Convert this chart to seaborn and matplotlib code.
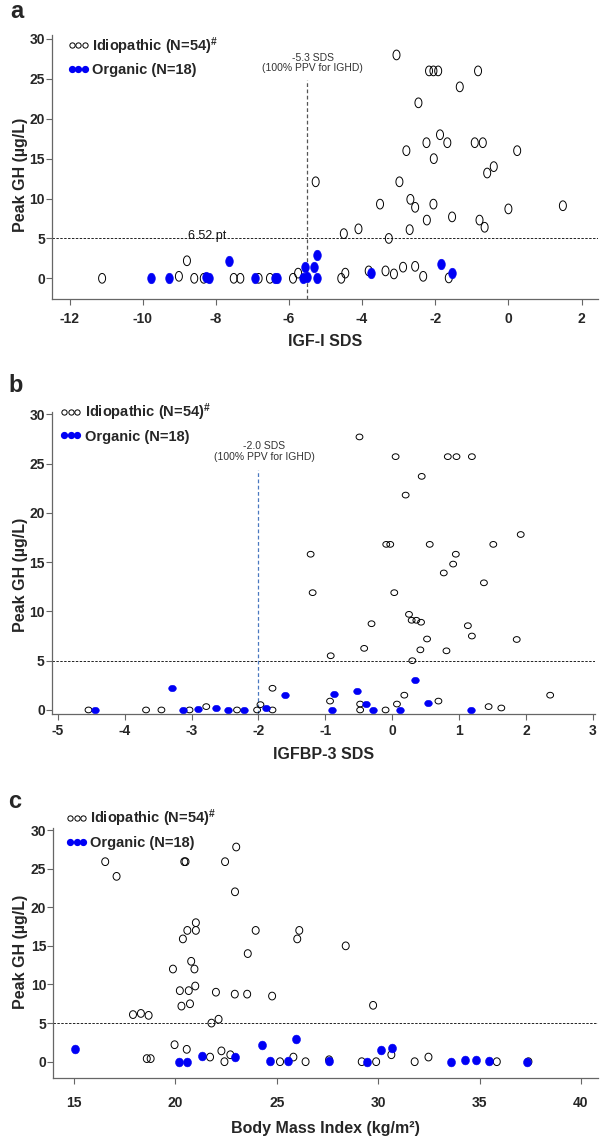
import numpy as np
import pandas as pd
import seaborn as sns
import matplotlib.pyplot as plt
from matplotlib.lines import Line2D

# panel a : IGF-I SDS vs peak GH
igf_idio_x = [-3.06, -2.17, -2.05, -1.92, -0.83, -1.33, -2.46, -1.87, -2.24, -1.67, -0.92, -0.70,
              -2.79, 0.24, -2.04, -0.40, -0.58, -5.27, -2.98, -3.51, -2.68, -2.55, -2.05, 0.00,
              1.49, -2.23, -1.54, -0.79, -0.65, -4.10, -4.50, -2.70, -3.27, -11.11, -8.79, -9.01,
              -8.59, -8.33, -7.51, -7.33, -6.83, -6.52, -5.89, -5.75, -4.57, -4.46, -3.82, -3.36,
              -3.13, -2.88, -2.55, -2.33, -1.63]
igf_idio_y = [28, 26, 26, 26, 26, 24, 22, 18, 17, 17, 17, 17,
              16, 16, 15, 14, 13.2, 12.1, 12.1, 9.3, 9.9, 8.9, 9.3, 8.7,
              9.1, 7.3, 7.7, 7.3, 6.4, 6.2, 5.6, 6.1, 5.0, 0, 2.2, 0.25,
              0, 0, 0, 0, 0, 0, 0, 0.65, 0, 0.65, 0.93, 0.93,
              0.55, 1.4, 1.5, 0.25, 0.05]
igf_org_x = [-9.76, -9.29, -8.26, -8.20, -7.65, -6.92, -6.38, -6.33, -5.57, -5.62, -5.50, -5.24,
             -5.31, -5.24, -3.75, -1.83, -1.55]
igf_org_y = [0, 0, 0.15, 0, 2.16, 0, 0, 0, 1.48, 0, 0.15, 2.92,
             1.4, 0, 0.72, 1.82, 0.64]

# panel b : IGFBP-3 SDS vs peak GH
bp3_idio_x = [-0.49, 0.05, 0.83, 0.96, 1.19, 0.44, 0.20, 1.92, -0.09, -0.03, 0.56, 1.51,
              -1.22, 0.95, 0.91, 0.77, 1.37, -1.19, 0.03, 0.25, 0.29, 0.36, 0.43, -0.31,
              1.13, 1.19, 0.52, 1.86, -0.42, 0.42, 0.81, -0.92, 0.30, -4.54, -3.68, -3.45,
              -3.03, -2.78, -2.32, -2.02, -1.97, -1.79, -1.79, -0.93, -0.48, -0.48, -0.10, 0.07,
              0.18, 0.69, 1.44, 1.63, 2.36]
bp3_idio_y = [27.7, 25.7, 25.7, 25.7, 25.7, 23.7, 21.8, 17.8, 16.8, 16.8, 16.8, 16.8,
              15.8, 15.8, 14.8, 13.9, 12.9, 11.9, 11.9, 9.7, 9.1, 9.1, 8.9, 8.75,
              8.55, 7.5, 7.2, 7.15, 6.25, 6.1, 6.0, 5.5, 5.0, 0, 0, 0,
              0, 0.34, 0, 0, 0.54, 0, 2.2, 0.9, 0, 0.6, 0, 0.6,
              1.5, 0.9, 0.34, 0.2, 1.5]
bp3_org_x = [-4.44, -3.29, -3.13, -2.91, -2.63, -2.46, -2.22, -1.88, -1.60, -0.87, -0.53, -0.90,
             -0.40, -0.29, 0.34, 0.11, 0.54, 1.17]
bp3_org_y = [0, 2.2, 0, 0.07, 0.17, 0, 0, 0.2, 1.55, 1.6, 1.9, 0,
             0.6, 0, 3.0, 0, 0.75, 0]

# panel c : BMI vs peak GH
bmi_idio_x = [23.0, 16.54, 20.44, 20.50, 22.45, 17.1, 22.94, 21.01, 20.59, 21.01, 23.96, 26.11,
              20.37, 26.01, 28.4, 23.57, 20.78, 19.88, 20.94, 20.98, 20.22, 20.66, 22.0, 22.93,
              23.54, 24.77, 20.72, 20.3, 29.75, 17.91, 18.3, 18.68, 21.78, 22.13, 19.96, 20.56,
              22.27, 21.71, 22.71, 22.42, 18.59, 18.78, 25.16, 25.82, 26.42, 27.58, 29.19, 29.9,
              30.65, 31.8, 32.48, 35.85, 37.41]
bmi_idio_y = [27.8, 25.9, 25.9, 25.9, 25.9, 24.0, 22.0, 18.0, 17.0, 17.0, 17.0, 17.0,
              15.9, 15.9, 15.0, 14.0, 13.0, 12.0, 12.0, 9.8, 9.2, 9.2, 9.0, 8.75,
              8.75, 8.5, 7.5, 7.2, 7.3, 6.1, 6.25, 6.0, 5.0, 5.5, 2.2, 1.6,
              1.4, 0.6, 0.9, 0, 0.4, 0.4, 0, 0.6, 0, 0.25, 0, 0,
              0.9, 0, 0.6, 0, 0]
bmi_org_x = [15.05, 20.17, 20.59, 21.32, 22.93, 24.25, 24.65, 25.55, 25.94, 27.57, 29.46, 30.13,
             30.68, 33.61, 34.29, 34.82, 35.46, 37.32]
bmi_org_y = [1.6, 0, 0, 0.8, 0.6, 2.2, 0.1, 0.1, 2.9, 0.1, 0, 1.45,
             1.8, 0, 0.25, 0.25, 0.1, 0]

sns.set_style("ticks")
plt.rcParams['font.family'] = ['Liberation Sans', 'DejaVu Sans']
plt.rcParams['mathtext.default'] = 'regular'
plt.rcParams['axes.unicode_minus'] = False

BLUE = '#0000f5'
GREY = '#666666'


def ellipse(wx, wy):
    t = np.linspace(0, 2 * np.pi, 41)
    return np.column_stack([wx * np.cos(t), wy * np.sin(t)])


def panel(ax, xi, yi, xo, yo, mk, s_open, s_org, xlim, ylim, xticks, xlabel, xpad, lpad, leg_xy):
    idio = pd.DataFrame({'x': xi, 'y': yi})
    org = pd.DataFrame({'x': xo, 'y': yo})
    sns.scatterplot(data=idio, x='x', y='y', marker=mk, s=s_open, facecolor='none',
                    edgecolor='black', linewidth=0.7, ax=ax, zorder=3)
    sns.scatterplot(data=org, x='x', y='y', marker=mk, s=s_org, color=BLUE,
                    edgecolor=BLUE, linewidth=0.4, ax=ax, zorder=4)
    ax.axhline(5, color='#222222', lw=0.7, ls=(0, (2.5, 1.5)), zorder=1)
    ax.set_xlim(xlim)
    ax.set_ylim(ylim)
    ax.set_xticks(xticks)
    ax.set_yticks(range(0, 31, 5))
    ax.tick_params(axis='both', length=4, width=0.8, color=GREY, labelsize=10)
    ax.tick_params(axis='x', pad=xpad)
    ax.tick_params(axis='y', pad=1)
    for lbl in ax.get_xticklabels() + ax.get_yticklabels():
        lbl.set_fontweight('bold')
    sns.despine(ax=ax)
    for sp in ['left', 'bottom']:
        ax.spines[sp].set_color(GREY)
        ax.spines[sp].set_linewidth(0.9)
    ax.set_xlabel(xlabel, fontsize=11.5, fontweight='bold', labelpad=lpad)
    ax.set_ylabel('Peak GH (µg/L)', fontsize=11.5, fontweight='bold')
    h1 = Line2D([], [], ls='', marker='o', ms=3.8, mfc='none', mec='black', mew=0.7)
    h2 = Line2D([], [], ls='', marker='o', ms=4.2, mfc=BLUE, mec=BLUE)
    ax.legend([h1, h2], ['Idiopathic (N=54)$^{\\#}$', 'Organic (N=18)'], loc='upper left',
              bbox_to_anchor=leg_xy, numpoints=3, handlelength=1.5, handletextpad=0.2,
              labelspacing=0.45, borderpad=0, borderaxespad=0, frameon=False,
              prop={'weight': 'bold', 'size': 10.5})


fig = plt.figure(figsize=(6, 11.36), dpi=100)
ax_a = fig.add_axes([52 / 600, 1 - 299.3 / 1136, 546 / 600, 264.3 / 1136])
ax_b = fig.add_axes([51.7 / 600, 1 - 714 / 1136, 543.3 / 600, 302.3 / 1136])
ax_c = fig.add_axes([53.3 / 600, 1 - 1078.3 / 1136, 544.7 / 600, 250.6 / 1136])

panel(ax_a, igf_idio_x, igf_idio_y, igf_org_x, igf_org_y, ellipse(0.72, 1.0), 49, 58,
      (-12.48, 2.45), (-2.63, 30.5), range(-12, 3, 2), 'IGF-I SDS', 5, 6, (0.028, 1.0))
panel(ax_b, bp3_idio_x, bp3_idio_y, bp3_org_x, bp3_org_y, ellipse(1.0, 0.84), 24, 30,
      (-5.09, 3.03), (-0.41, 30.26), range(-5, 4), 'IGFBP-3 SDS', 3.5, 6, (0.015, 1.034))
panel(ax_c, bmi_idio_x, bmi_idio_y, bmi_org_x, bmi_org_y, ellipse(0.9, 1.0), 31, 40,
      (13.98, 40.84), (-2.15, 30.3), range(15, 41, 5), 'Body Mass Index (kg/m²)', 9, 8,
      (0.0226, 1.08))

ax_a.yaxis.set_label_coords(-0.044, 0.47)
ax_b.yaxis.set_label_coords(-0.043, 0.46)
ax_c.yaxis.set_label_coords(-0.046, 0.505)

# cut-off lines
ax_a.vlines(-5.5, -2.63, 24.8, color='#555555', lw=0.9, ls=(0, (3, 2)))
ax_a.text(-5.35, 27.0, '-5.3 SDS\n(100% PPV for IGHD)', ha='center', va='center',
          fontsize=7.5, color='#333333', linespacing=1.1)
ax_a.text(-8.75, 5.3, '6.52 pt', ha='left', va='center', fontsize=9, color='#111111')
ax_b.vlines(-2.0, -0.41, 24.3, color='#4a78c0', lw=0.9, ls=(0, (3, 2)))
ax_b.text(-1.91, 26.25, '-2.0 SDS\n(100% PPV for IGHD)', ha='center', va='center',
          fontsize=7.5, color='#333333', linespacing=1.1)

fig.text(10 / 600, 1 - 12 / 1136, 'a', fontsize=17, fontweight='bold', ha='left', va='center')
fig.text(8 / 600, 1 - 385 / 1136, 'b', fontsize=17, fontweight='bold', ha='left', va='center')
fig.text(8 / 600, 1 - 802 / 1136, 'c', fontsize=17, fontweight='bold', ha='left', va='center')

fig.savefig('out.png', dpi=100)
